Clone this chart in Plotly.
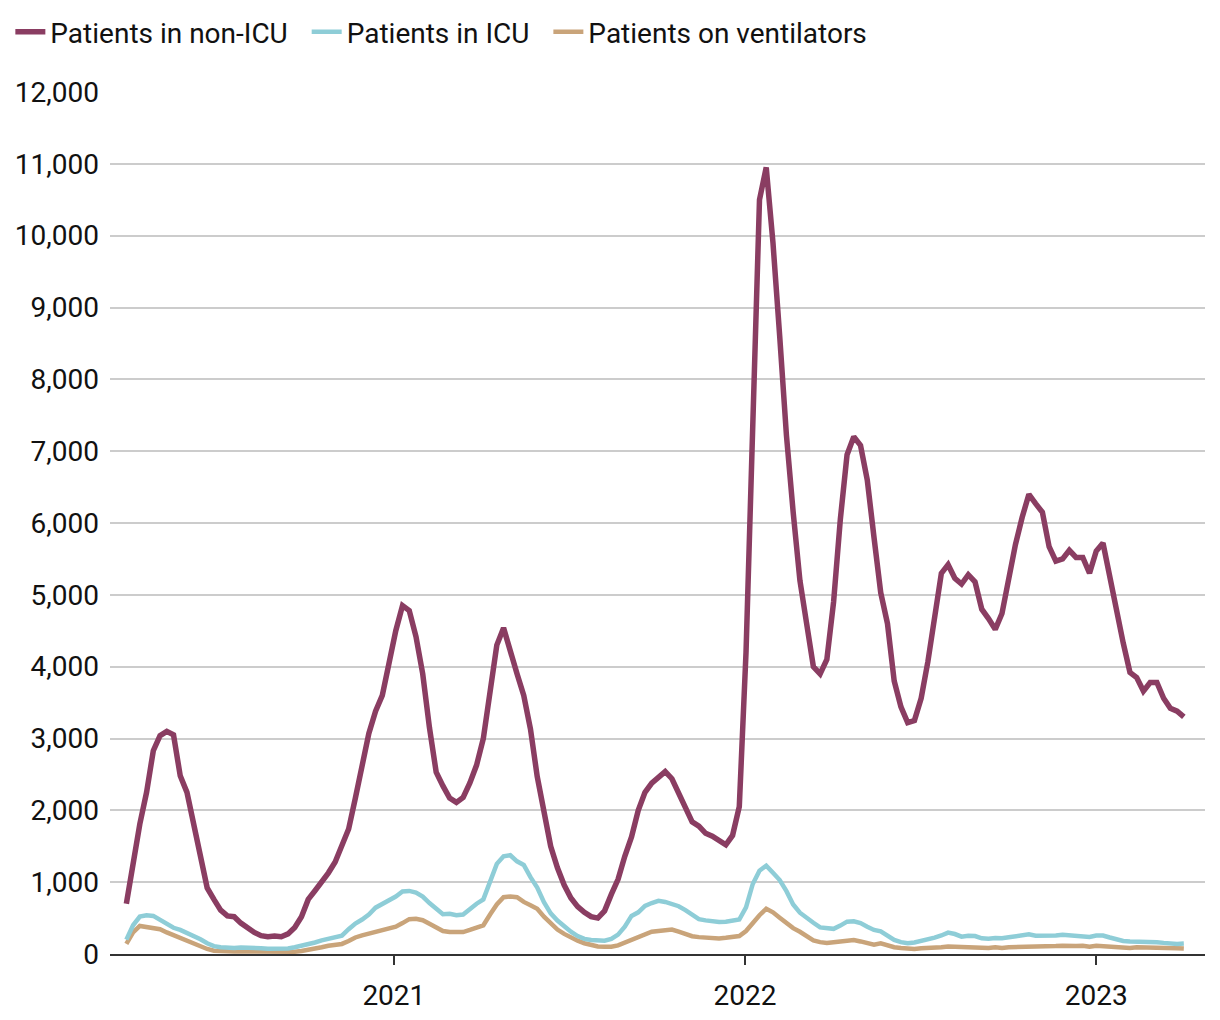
import pandas as pd
import plotly.graph_objects as go

# Weekly readings (Sundays) starting 2020-03-29
start_date = "2020-03-29"

non_icu = [
    700, 1300, 1810, 2250, 2830, 3040, 3100, 3050, 2480, 2250,
    1800, 1330, 920, 760, 610, 530, 520, 430, 360, 300,
    255, 240, 250, 240, 280, 370, 520, 760, 880, 1000,
    1130, 1280, 1490, 1740, 2170, 2650, 3070, 3380, 3600, 4050,
    4500, 4850, 4780, 4420, 3900, 3150, 2530, 2340, 2170, 2110,
    2180, 2380, 2630, 3000, 3700, 4300, 4540, 4250, 3900, 3600,
    3130, 2470, 1930, 1500, 1200, 960, 780, 660, 580, 520,
    500, 600, 830, 1040, 1360, 1630, 2000, 2250, 2380, 2450,
    2540, 2440, 2250, 2050, 1840, 1780, 1680, 1640, 1570, 1520,
    1650, 2050, 4200, 7700, 10500, 10950, 9900, 8600, 7220, 6150,
    5200, 4600, 4000, 3900, 4100, 4900, 6050, 6950, 7200, 7080,
    6600, 5800, 5030, 4600, 3800, 3440, 3220, 3250, 3560, 4070,
    4720, 5300, 5420, 5230, 5150, 5280, 5180, 4800, 4670, 4520,
    4740, 5250, 5700, 6080, 6400, 6270, 6150, 5670, 5470, 5500,
    5620, 5520, 5520, 5300, 5610, 5720, 5230, 4740, 4330, 3920,
    3850, 3660, 3780, 3780, 3560, 3420, 3380, 3300,
]

icu = [
    200, 400, 520, 540, 530, 470, 410, 365, 335, 295,
    250, 205, 150, 110, 95, 85, 85, 90, 90, 90,
    80, 72, 70, 72, 78, 95, 115, 130, 160, 190,
    212, 218, 255, 345, 425, 480, 550, 645, 700, 740,
    800, 870, 878, 855, 800, 710, 635, 555, 560, 540,
    550, 630, 700, 760, 990, 1255, 1360, 1375, 1290, 1240,
    1070, 925, 720, 565, 465, 385, 310, 250, 210, 195,
    185, 185, 210, 270, 380, 530, 580, 670, 710, 740,
    725, 695, 665, 610, 545, 485, 468, 455, 445, 450,
    462, 480, 650, 975, 1160, 1230, 1130, 1030, 875, 690,
    575, 495, 435, 370, 365, 350, 395, 450, 455, 430,
    380, 335, 315, 255, 195, 165, 150, 160, 178, 210,
    228, 258, 298, 278, 242, 255, 250, 218, 212, 222,
    218, 232, 245, 272, 275, 255, 255, 245, 258, 268,
    258, 252, 238, 238, 258, 258, 230, 200, 182, 175,
    175, 178, 178, 165, 155, 140, 140, 145,
]

ventilators = [
    140, 300, 390, 375, 375, 345, 300, 260, 220, 175,
    140, 105, 70, 45, 38, 35, 35, 35, 35, 33,
    30, 28, 25, 27, 30, 33, 42, 55, 75, 95,
    115, 125, 140, 180, 230, 260, 285, 315, 340, 365,
    380, 430, 485, 490, 470, 420, 375, 320, 305, 305,
    305, 335, 365, 400, 550, 690, 790, 800, 790, 725,
    680, 630, 520, 420, 340, 280, 225, 185, 150, 120,
    105, 100, 100, 120, 160, 205, 235, 270, 310, 320,
    325, 340, 310, 275, 248, 235, 225, 220, 215, 225,
    235, 250, 320, 440, 540, 630, 580, 505, 435, 360,
    310, 245, 190, 165, 155, 165, 175, 195, 195, 175,
    150, 130, 150, 118, 95, 85, 70, 70, 80, 80,
    85, 95, 105, 100, 110, 100, 95, 95, 85, 95,
    85, 95, 95, 100, 110, 100, 105, 100, 110, 115,
    105, 110, 115, 100, 115, 110, 100, 95, 85, 85,
    95, 95, 90, 95, 85, 80, 80, 75,
]

series_names = ["Patients in non-ICU", "Patients in ICU", "Patients on ventilators"]
series_colors = ["#8a3d62", "#8ecdd7", "#c9a47a"]
series_widths = [5.5, 4.5, 4.5]
year_ticks = ["2021-01-01", "2022-01-01", "2023-01-01"]
year_labels = ["2021", "2022", "2023"]

dates = pd.date_range(start=start_date, periods=len(non_icu), freq="7D")

FONT = "Roboto, 'Noto Sans', sans-serif"
PAD = "\u00a0\u00a0"  # spacing after legend labels

fig = go.Figure()
# draw order: ventilators bottom, then ICU, then non-ICU on top
for name, vals, color, width in reversed(list(zip(series_names,
                                                  [non_icu, icu, ventilators],
                                                  series_colors, series_widths))):
    fig.add_trace(go.Scatter(
        x=dates, y=vals, mode="lines", name=name + PAD,
        line=dict(color=color, width=width),
    ))

fig.update_layout(
    width=1220, height=1020,
    margin=dict(l=110, r=15, t=92, b=66, autoexpand=False),
    paper_bgcolor="white", plot_bgcolor="white",
    font=dict(family=FONT, size=28, color="#111111"),
    showlegend=True,
    legend=dict(
        orientation="h", x=-0.091, xanchor="left", y=1.0695, yanchor="middle",
        font=dict(family=FONT, size=28, color="#111111"),
        traceorder="reversed", bgcolor="rgba(0,0,0,0)",
    ),
    hovermode=False,
)

fig.update_xaxes(
    type="date", automargin=False,
    range=["2020-03-12", "2023-04-24"],
    tickvals=year_ticks, ticktext=year_labels,
    ticks="outside", ticklen=9, tickwidth=2, tickcolor="#333333",
    showline=True, linecolor="#333333", linewidth=2,
    showgrid=False, zeroline=False,
    tickfont=dict(family=FONT, size=28, color="#111111"),
    ticklabelstandoff=6,
)

fig.update_yaxes(
    automargin=False,
    range=[0, 12000], dtick=1000, tick0=0,
    tickformat=",d",
    showgrid=True, gridcolor="#cccccc", gridwidth=1.5,
    zeroline=False, showline=False, ticks="",
    tickfont=dict(family=FONT, size=28, color="#111111"),
    ticklabelstandoff=10,
)

fig.write_html(
    "out.html",
    config={"displayModeBar": False},
    post_script="document.body.style.margin='0';document.body.style.overflow='hidden';",
)
